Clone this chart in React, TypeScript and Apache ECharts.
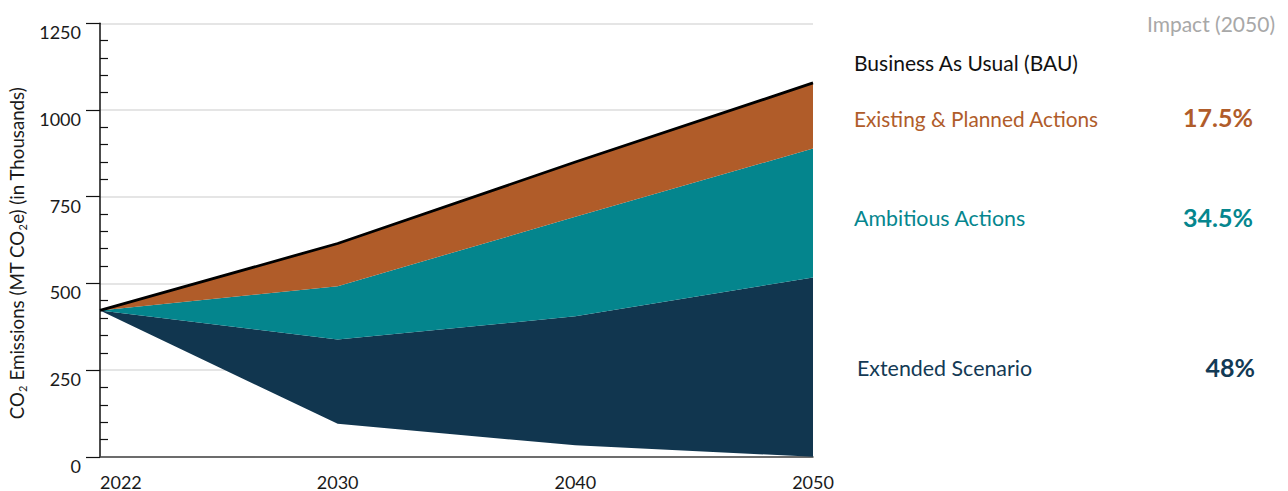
import React, { useEffect, useRef } from "react";
import * as echarts from "echarts";

const years = ["2022", "2030", "2040", "2050"];
const bau = [422, 615, 850, 1078];
const existingPlanned = [422, 492, 692, 889];
const ambitious = [422, 338, 405, 517];
const extended = [422, 95, 33, 0];
const yTicks = { min: 0, max: 1250, interval: 250 };

const legendItems = [
  { label: "Existing & Planned Actions", impact: "17.5%", color: "#b05c2a", y: 118 },
  { label: "Ambitious Actions", impact: "34.5%", color: "#05868e", y: 218 },
  { label: "Extended Scenario", impact: "48%", color: "#133a55", y: 368 },
];

const NAVY = "#11364f";
const TEAL = "#04858d";
const ORANGE = "#b05c29";

export default function App() {
  const ref = useRef<HTMLDivElement>(null);
  useEffect(() => {
    if (!ref.current) return;
    const chart = echarts.init(ref.current, undefined, { renderer: "svg" });
    const diff = (a: number[], b: number[]) => a.map((v, i) => v - b[i]);
    const font = "Lato";
    const txt = (text: string, x: number, y: number, fill: string, size: number, align: string, weight = "normal") => ({
      type: "text",
      x,
      y,
      style: {
        text,
        fill,
        fontSize: size,
        fontFamily: font,
        fontWeight: weight,
        align,
        verticalAlign: "middle",
        textAlign: align,
        textVerticalAlign: "middle",
      },
    });
    const graphics: any[] = [
      txt("Impact (2050)", 1275, 23, "#a8a8a8", 21, "right"),
      txt("Business As Usual (BAU)", 854, 62, "#111111", 21, "left"),
    ];
    legendItems.forEach((it, idx) => {
      graphics.push(txt(it.label, idx === 2 ? 857 : 854, it.y, it.color, idx === 0 ? 20.8 : 21.4, "left"));
      graphics.push(txt(it.impact, idx === 2 ? 1255 : 1253, it.y - 1, it.color, 25, "right", "bold"));
    });

    const option: any = {
      animation: false,
      textStyle: { fontFamily: font },
      grid: {
        left: 100,
        right: 475,
        top: 23.3,
        bottom: 34.2,
        containLabel: false,
        outerBoundsMode: "none",
      },
      xAxis: {
        type: "category",
        data: years,
        boundaryGap: false,
        axisLine: { lineStyle: { color: "#444", width: 1.5 } },
        axisTick: { show: false },
        axisLabel: {
          margin: 16,
          fontSize: 18,
          color: "#1a1a1a",
          fontFamily: font,
          alignMinLabel: "left",
        },
        splitLine: { show: false },
      },
      yAxis: {
        type: "value",
        min: yTicks.min,
        max: yTicks.max,
        interval: yTicks.interval,
        name: "{a|CO}{s|2}{a| Emissions (MT CO}{s|2}{a|e) (in Thousands)}",
        nameLocation: "middle",
        nameGap: 72,
        nameTextStyle: {
          fontFamily: font,
          color: "#1a1a1a",
          padding: [0, 26, 0, 0],
          rich: {
            a: { fontSize: 18.7, fontFamily: font, color: "#1a1a1a", lineHeight: 22 },
            s: {
              fontSize: 11,
              fontFamily: font,
              color: "#1a1a1a",
              verticalAlign: "bottom",
              lineHeight: 22,
              padding: [8, 0, 0, 0],
            },
          },
        },
        axisLine: { show: true, lineStyle: { color: "#111", width: 1.5 } },
        axisTick: { show: true, length: 14, lineStyle: { color: "#111", width: 1.2 } },
        minorTick: { show: true, splitNumber: 5, length: -8, lineStyle: { color: "#111", width: 1.2 } },
        axisLabel: {
          margin: 19,
          fontSize: 18,
          color: "#1a1a1a",
          fontFamily: font,
          verticalAlign: "top",
          formatter: (v: number) => String(v),
        },
        splitLine: { show: true, lineStyle: { color: "#dcdcdc", width: 1.5 } },
        minorSplitLine: { show: false },
      },
      series: [
        {
          name: "base",
          type: "line",
          stack: "s",
          data: extended,
          symbol: "none",
          lineStyle: { opacity: 0 },
          silent: true,
        },
        {
          name: "Extended Scenario",
          type: "line",
          stack: "s",
          data: diff(ambitious, extended),
          symbol: "none",
          lineStyle: { opacity: 0 },
          areaStyle: { color: NAVY, opacity: 1 },
        },
        {
          name: "Ambitious Actions",
          type: "line",
          stack: "s",
          data: diff(existingPlanned, ambitious),
          symbol: "none",
          lineStyle: { opacity: 0 },
          areaStyle: { color: TEAL, opacity: 1 },
        },
        {
          name: "Existing & Planned Actions",
          type: "line",
          stack: "s",
          data: diff(bau, existingPlanned),
          symbol: "none",
          lineStyle: { opacity: 0 },
          areaStyle: { color: ORANGE, opacity: 1 },
        },
        {
          name: "Business As Usual (BAU)",
          type: "line",
          data: bau,
          symbol: "none",
          lineStyle: { color: "#000", width: 2.8 },
          z: 5,
        },
      ],
      graphic: graphics,
    };
    chart.setOption(option);
    return () => chart.dispose();
  }, []);
  return (
    <div
      ref={ref}
      style={{ position: "fixed", left: 0, top: 0, width: 1288, height: 491, background: "#fff" }}
    />
  );
}
